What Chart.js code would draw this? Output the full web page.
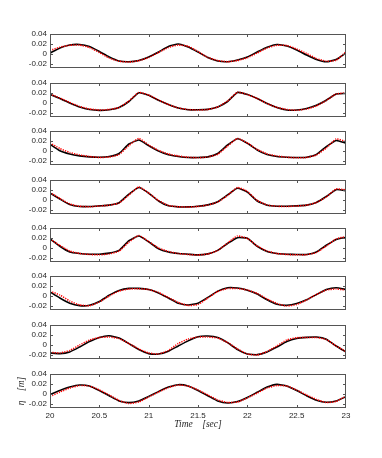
<!DOCTYPE html>
<html lang="en">
<head>
<meta charset="UTF-8" />
<title>Surface elevation</title>
<script src="https://cdn.jsdelivr.net/npm/chart.js"></script>
<style>
  body { margin: 0; background: #fff; }
  #wrap { position: relative; width: 382px; height: 458px; overflow: hidden; }
  #wrap canvas { position: absolute; left: 0; }
</style>
</head>
<body>
<div id="wrap"></div>
<script>
// time axis [sec]
const time = [20.0, 20.1, 20.2, 20.3, 20.4, 20.5, 20.6, 20.7, 20.8, 20.9, 21.0,
              21.1, 21.2, 21.3, 21.4, 21.5, 21.6, 21.7, 21.8, 21.9, 22.0,
              22.1, 22.2, 22.3, 22.4, 22.5, 22.6, 22.7, 22.8, 22.9, 23.0];

const xTicks = [20, 20.5, 21, 21.5, 22, 22.5, 23];
const xTickLabels = ['20', '20.5', '21', '21.5', '22', '22.5', '23'];
const yTicks = [-0.02, 0, 0.02, 0.04];
const yTickLabels = ['-0.02', '0', '0.02', '0.04'];

// eta [m], black = solid line, red = dotted
const black1 = [0.002, 0.012, 0.018, 0.019, 0.015, 0.005, -0.006, -0.014, -0.0155, -0.013, -0.006, 0.004, 0.015, 0.020, 0.014, 0.004, -0.007, -0.014, -0.0155, -0.012, -0.006, 0.004, 0.0135, 0.019, 0.016, 0.008, -0.002, -0.011, -0.0155, -0.011, 0.002];
const red1   = [0.007, 0.0135, 0.0175, 0.018, 0.013, 0.003, -0.008, -0.0145, -0.016, -0.0135, -0.007, 0.003, 0.013, 0.018, 0.0155, 0.005, -0.007, -0.013, -0.0155, -0.013, -0.0075, 0.002, 0.012, 0.0175, 0.017, 0.010, 0.001, -0.009, -0.0145, -0.0125, 0.004];

const black2 = [0.017, 0.009, 0.000, -0.008, -0.013, -0.0147, -0.0135, -0.009, 0.003, 0.0205, 0.0155, 0.0055, -0.003, -0.010, -0.0135, -0.0135, -0.0127, -0.008, 0.003, 0.021, 0.017, 0.009, -0.001, -0.009, -0.014, -0.014, -0.011, -0.0046, 0.0055, 0.018, 0.019];
const red2   = [0.018, 0.010, 0.001, -0.007, -0.012, -0.014, -0.013, -0.009, 0.004, 0.021, 0.016, 0.006, -0.003, -0.010, -0.013, -0.014, -0.013, -0.008, 0.004, 0.0215, 0.017, 0.009, -0.001, -0.009, -0.013, -0.0145, -0.012, -0.006, 0.005, 0.018, 0.020];

const black3 = [0.0135, 0.0005, -0.006, -0.0097, -0.0117, -0.0124, -0.011, -0.005, 0.014, 0.022, 0.0107, -0.0001, -0.0076, -0.011, -0.013, -0.013, -0.0117, -0.005, 0.012, 0.0244, 0.0155, 0.002, -0.007, -0.011, -0.0124, -0.013, -0.0124, -0.007, 0.0087, 0.021, 0.0155];
const red3   = [0.016, 0.005, -0.003, -0.008, -0.011, -0.013, -0.012, -0.007, 0.011, 0.025, 0.012, 0.001, -0.006, -0.010, -0.0125, -0.0135, -0.012, -0.0065, 0.010, 0.025, 0.016, 0.003, -0.006, -0.010, -0.0125, -0.0135, -0.013, -0.008, 0.006, 0.024, 0.019];

const black4 = [0.0138, 0.002, -0.009, -0.013, -0.013, -0.0117, -0.0103, -0.0055, 0.0117, 0.025, 0.0138, -0.002, -0.0117, -0.0138, -0.0138, -0.0124, -0.0097, -0.0034, 0.0103, 0.0235, 0.0159, -0.002, -0.0103, -0.0124, -0.0124, -0.0117, -0.0103, -0.0048, 0.007, 0.0207, 0.0186];
const red4   = [0.015, 0.003, -0.008, -0.0125, -0.0135, -0.012, -0.0105, -0.006, 0.010, 0.026, 0.014, -0.001, -0.011, -0.0135, -0.014, -0.013, -0.010, -0.004, 0.009, 0.025, 0.017, -0.001, -0.010, -0.0125, -0.013, -0.012, -0.0105, -0.005, 0.006, 0.022, 0.020];

const black5 = [0.018, 0.0035, -0.008, -0.011, -0.0124, -0.0124, -0.0103, -0.0048, 0.0145, 0.024, 0.0124, -0.0014, -0.008, -0.011, -0.0124, -0.0138, -0.0117, -0.0048, 0.009, 0.0207, 0.0193, 0.0035, -0.007, -0.011, -0.0124, -0.013, -0.013, -0.008, 0.0055, 0.0172, 0.0214];
const red5   = [0.018, 0.005, -0.006, -0.011, -0.013, -0.0135, -0.012, -0.006, 0.012, 0.025, 0.013, 0.000, -0.007, -0.011, -0.013, -0.014, -0.012, -0.005, 0.010, 0.024, 0.019, 0.004, -0.006, -0.011, -0.013, -0.0135, -0.0135, -0.009, 0.004, 0.018, 0.023];

const black6 = [0.0083, -0.004, -0.0145, -0.0193, -0.0186, -0.011, 0.0014, 0.011, 0.0152, 0.0152, 0.013, 0.0062, -0.004, -0.0145, -0.018, -0.0145, -0.0028, 0.0097, 0.0166, 0.0159, 0.0117, 0.0041, -0.0076, -0.0166, -0.0186, -0.0152, -0.0076, 0.0028, 0.013, 0.0166, 0.013];
const red6   = [0.0097, 0.002, -0.010, -0.018, -0.0195, -0.012, 0.000, 0.010, 0.014, 0.0145, 0.013, 0.007, -0.003, -0.013, -0.019, -0.017, -0.004, 0.009, 0.015, 0.015, 0.012, 0.005, -0.006, -0.015, -0.020, -0.017, -0.008, 0.003, 0.012, 0.014, 0.012];

const black7 = [-0.016, -0.0172, -0.0138, -0.004, 0.0069, 0.0152, 0.0186, 0.0138, 0.0028, -0.009, -0.0172, -0.018, -0.0124, -0.002, 0.0083, 0.0166, 0.018, 0.0152, 0.0048, -0.009, -0.018, -0.0193, -0.0138, -0.004, 0.0069, 0.0131, 0.0152, 0.0159, 0.0117, -0.002, -0.0138];
const red7   = [-0.0145, -0.016, -0.011, 0.000, 0.010, 0.015, 0.016, 0.013, 0.003, -0.008, -0.016, -0.018, -0.011, 0.003, 0.012, 0.016, 0.016, 0.014, 0.005, -0.008, -0.018, -0.020, -0.013, -0.002, 0.010, 0.0145, 0.015, 0.015, 0.011, -0.002, -0.013];

const black8 = [-0.0014, 0.0069, 0.0138, 0.0179, 0.0159, 0.0069, -0.0034, -0.0138, -0.0172, -0.0138, -0.0048, 0.0048, 0.0138, 0.0186, 0.0159, 0.0069, -0.0034, -0.0138, -0.018, -0.0152, -0.0069, 0.0034, 0.0138, 0.0193, 0.0159, 0.0069, -0.0034, -0.0124, -0.0166, -0.0138, -0.0055];
const red8   = [-0.005, 0.004, 0.012, 0.017, 0.016, 0.008, -0.002, -0.013, -0.019, -0.016, -0.006, 0.004, 0.013, 0.018, 0.016, 0.008, -0.002, -0.012, -0.017, -0.016, -0.008, 0.002, 0.012, 0.017, 0.016, 0.008, -0.002, -0.011, -0.017, -0.015, -0.004];

const panels = [
  [black1, red1], [black2, red2], [black3, red3], [black4, red4],
  [black5, red5], [black6, red6], [black7, red7], [black8, red8]
];

// layout (page pixels)
const panelTops = [34, 83, 131, 180, 228, 276, 325, 374];
const panelH = 34;
const pad = 8;      // must exceed the half label height + tick padding (7.8)
const xAxisH = 30;

const tickFont = { family: 'Liberation Sans, Arial, sans-serif', size: 8 };
const titleFont = { family: 'Liberation Serif, DejaVu Serif, serif', size: 9.5, style: 'italic' };

// MATLAB style box with inward ticks on all four sides
const boxPlugin = {
  id: 'box',
  afterDatasetsDraw(chart) {
    const { ctx, chartArea: a, scales: { x, y } } = chart;
    const L = Math.round(a.left) + 0.5, R = Math.round(a.right) - 0.5;
    const T = Math.round(a.top) + 0.5, B = Math.round(a.bottom) - 0.5;
    const len = 2.5;
    ctx.save();
    ctx.strokeStyle = '#555';
    ctx.lineWidth = 1;
    ctx.beginPath();
    yTicks.forEach(v => {
      const py = Math.round(y.getPixelForValue(v)) + 0.5;
      if (py <= T + 1 || py >= B - 1) return;
      ctx.moveTo(L, py); ctx.lineTo(L + len, py);
      ctx.moveTo(R, py); ctx.lineTo(R - len, py);
    });
    xTicks.forEach(v => {
      const px = Math.round(x.getPixelForValue(v)) + 0.5;
      if (px <= L + 1 || px >= R - 1) return;
      ctx.moveTo(px, T); ctx.lineTo(px, T + len);
      ctx.moveTo(px, B); ctx.lineTo(px, B - len);
    });
    ctx.stroke();
    ctx.strokeRect(L, T, R - L, B - T);
    ctx.restore();
  }
};

const wrap = document.getElementById('wrap');

panels.forEach(([blk, red], i) => {
  const last = i === panels.length - 1;
  const canvas = document.createElement('canvas');
  const h = pad + panelH + (last ? xAxisH + 2 : pad);
  canvas.width = 382;
  canvas.height = h;
  canvas.style.top = (panelTops[i] - pad) + 'px';
  wrap.appendChild(canvas);

  new Chart(canvas, {
    type: 'line',
    data: {
      datasets: [
        {
          data: time.map((t, k) => ({ x: t, y: blk[k] })),
          borderColor: '#000',
          borderWidth: 1.6,
          pointRadius: 0,
          tension: 0.15,
          order: 2
        },
        {
          data: time.map((t, k) => ({ x: t, y: red[k] })),
          borderColor: '#ff0000',
          borderWidth: 1.6,
          borderDash: [1.2, 1.2],
          pointRadius: 0,
          tension: 0.15,
          order: 1
        }
      ]
    },
    options: {
      responsive: false,
      animation: false,
      events: [],
      layout: { padding: { left: 10, right: 36, top: pad, bottom: last ? 2 : pad } },
      plugins: { legend: { display: false }, tooltip: { enabled: false } },
      scales: {
        x: {
          type: 'linear',
          min: 20,
          max: 23,
          display: last,
          afterBuildTicks: s => { s.ticks = xTicks.map(v => ({ value: v })); },
          afterFit: s => { s.height = last ? xAxisH : 0; },
          grid: { display: false, drawTicks: false },
          border: { display: false },
          ticks: {
            font: tickFont,
            color: '#262626',
            padding: 3,
            maxRotation: 0,
            autoSkip: false,
            callback: (v, k) => xTickLabels[k]
          },
          title: {
            display: true,
            text: 'Time    [sec]',
            font: titleFont,
            color: '#262626',
            padding: { top: 0, bottom: 8 }
          }
        },
        y: {
          min: -0.028,
          max: 0.04,
          afterBuildTicks: s => { s.ticks = yTicks.map(v => ({ value: v })); },
          afterFit: s => { s.width = 40; },
          grid: { display: false, drawTicks: false },
          border: { display: false },
          ticks: {
            font: tickFont,
            color: '#262626',
            padding: 3,
            autoSkip: false,
            callback: (v, k) => yTickLabels[k]
          },
          title: {
            display: last,
            text: 'η    [m]',
            font: titleFont,
            color: '#262626',
            padding: { top: 6, bottom: 0 }
          }
        }
      }
    },
    plugins: [boxPlugin]
  });
});
</script>
</body>
</html>
